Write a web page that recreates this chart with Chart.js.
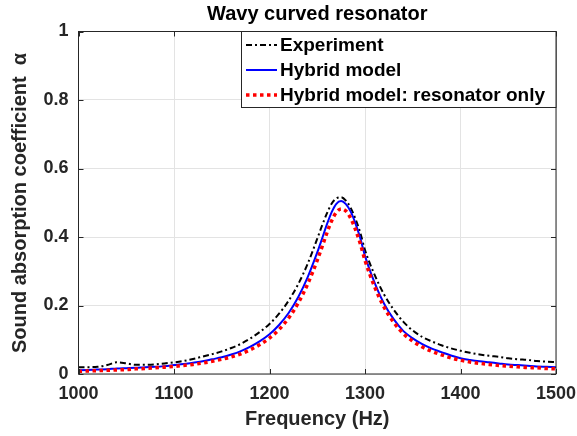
<!DOCTYPE html>
<html>
<head>
<meta charset="utf-8">
<script src="https://cdn.jsdelivr.net/npm/chart.js@4.4.1/dist/chart.umd.min.js"></script>
<style>
  html, body { margin: 0; padding: 0; background: #fff; }
  #wrap { width: 577px; height: 436px; }
</style>
</head>
<body>
<div id="wrap"><canvas id="dataChart" width="577" height="436"></canvas></div>
<script>
// frequency (Hz)
const freq = [1000, 1010, 1020, 1030, 1040, 1050, 1060, 1070, 1080, 1090,
	1100, 1110, 1120, 1130, 1140, 1150, 1160, 1170, 1180, 1190,
	1200, 1210, 1220, 1230, 1240, 1250,
	1255, 1260, 1265, 1270, 1275, 1280, 1285, 1290, 1295,
	1300, 1310, 1320, 1330, 1340, 1350, 1360, 1370, 1380, 1390, 1400,
	1410, 1420, 1430, 1440, 1450, 1460, 1470, 1480, 1490, 1500];

const experiment = [0.020, 0.020, 0.021, 0.026, 0.034, 0.031, 0.027, 0.027, 0.028, 0.031,
	0.034, 0.038, 0.044, 0.051, 0.058, 0.066, 0.076, 0.088, 0.104, 0.123,
	0.146, 0.176, 0.214, 0.262, 0.322, 0.395,
	0.433, 0.468, 0.497, 0.513, 0.516, 0.506, 0.485, 0.453, 0.413,
	0.362, 0.290, 0.232, 0.188, 0.153, 0.127, 0.108, 0.095, 0.084, 0.075, 0.068,
	0.062, 0.057, 0.053, 0.050, 0.046, 0.043, 0.041, 0.038, 0.036, 0.035];

const hybrid = [0.011, 0.012, 0.013, 0.014, 0.016, 0.017, 0.018, 0.020, 0.021, 0.023,
	0.026, 0.029, 0.033, 0.037, 0.043, 0.049, 0.057, 0.067, 0.080, 0.096,
	0.116, 0.143, 0.178, 0.224, 0.283, 0.355,
	0.395, 0.436, 0.472, 0.497, 0.505, 0.496, 0.474, 0.440, 0.397,
	0.345, 0.267, 0.205, 0.160, 0.126, 0.104, 0.087, 0.074, 0.064, 0.054, 0.046,
	0.041, 0.037, 0.034, 0.031, 0.028, 0.026, 0.024, 0.022, 0.021, 0.020];

const resonatorOnly = [0.008, 0.009, 0.010, 0.011, 0.012, 0.013, 0.015, 0.016, 0.018, 0.020,
	0.022, 0.025, 0.028, 0.032, 0.037, 0.043, 0.050, 0.059, 0.071, 0.086,
	0.105, 0.130, 0.163, 0.207, 0.263, 0.332,
	0.371, 0.411, 0.447, 0.472, 0.482, 0.476, 0.455, 0.422, 0.381,
	0.332, 0.255, 0.195, 0.151, 0.118, 0.096, 0.079, 0.066, 0.056, 0.047, 0.040,
	0.035, 0.031, 0.028, 0.025, 0.023, 0.021, 0.019, 0.018, 0.016, 0.015];

const xTicks = [1000, 1100, 1200, 1300, 1400, 1500];
const yTicks = [0, 0.2, 0.4, 0.6, 0.8, 1];
const yTickLabels = ['0', '0.2', '0.4', '0.6', '0.8', '1'];
const seriesNames = ['Experiment', 'Hybrid model', 'Hybrid model: resonator only'];

const axisColor = '#262626';
const fontFam = '"Liberation Sans", Arial, Helvetica, sans-serif';

const toPoints = (ys) => freq.map((f, i) => ({ x: f, y: ys[i] }));

// box, inward ticks, title, axis labels and legend (MATLAB look)
const matlabDecor = {
	id: 'matlabDecor',
	afterDraw(chart) {
		const c = chart.ctx;
		const a = chart.chartArea;
		const xs = chart.scales.x, ys = chart.scales.y;
		c.save();
		c.strokeStyle = axisColor;
		c.lineWidth = 1;
		c.strokeRect(a.left, a.top, a.right - a.left, a.bottom - a.top);
		c.beginPath();
		xTicks.forEach(v => {
			const px = Math.round(xs.getPixelForValue(v)) + 0.5;
			c.moveTo(px, a.bottom); c.lineTo(px, a.bottom - 5);
			c.moveTo(px, a.top); c.lineTo(px, a.top + 5);
		});
		yTicks.forEach(v => {
			const py = Math.round(ys.getPixelForValue(v)) + 0.5;
			c.moveTo(a.left, py); c.lineTo(a.left + 5, py);
			c.moveTo(a.right, py); c.lineTo(a.right - 5, py);
		});
		c.stroke();

		// title
		c.fillStyle = '#000';
		c.textAlign = 'center';
		c.textBaseline = 'middle';
		c.font = 'bold 20px ' + fontFam;
		c.fillText('Wavy curved resonator', (a.left + a.right) / 2, 14);

		// x label
		c.fillStyle = axisColor;
		c.fillText('Frequency (Hz)', (a.left + a.right) / 2, 419);

		// y label
		c.save();
		c.translate(20, 203);
		c.rotate(-Math.PI / 2);
		c.fillText('Sound absorption coefficient  \u03b1', 0, 0);
		c.restore();

		// legend
		const lx = 241.5, ly = 31.5, lw = a.right - 241.5, lh = 76;
		c.fillStyle = '#fff';
		c.fillRect(lx, ly, lw, lh);
		c.strokeStyle = axisColor;
		c.strokeRect(lx, ly, lw, lh);
		c.font = 'bold 19px ' + fontFam;
		c.textAlign = 'left';
		c.fillStyle = '#000';
		chart.data.datasets.forEach((ds, i) => {
			const yy = 45 + i * 25;
			c.save();
			c.strokeStyle = ds.borderColor;
			c.lineWidth = ds.borderWidth;
			c.setLineDash(ds.borderDash || []);
			c.beginPath();
			c.moveTo(246, yy); c.lineTo(277, yy);
			c.stroke();
			c.restore();
			c.fillText(seriesNames[i], 280, yy + 1);
		});
		c.restore();
	}
};

const ctx = document.getElementById('dataChart').getContext('2d');
const chart = new Chart(ctx, {
	type: 'line',
	data: {
		datasets: [{
			label: seriesNames[0],
			data: toPoints(experiment),
			borderColor: '#000000',
			borderWidth: 2,
			borderDash: [6, 3, 2, 3],
			order: 2
		}, {
			label: seriesNames[1],
			data: toPoints(hybrid),
			borderColor: '#0000ff',
			borderWidth: 2,
			order: 1
		}, {
			label: seriesNames[2],
			data: toPoints(resonatorOnly),
			borderColor: '#ff0000',
			borderWidth: 3.5,
			borderDash: [3.5, 3.5],
			order: 0
		}]
	},
	options: {
		responsive: false,
		animation: false,
		devicePixelRatio: 1,
		elements: {
			point: { radius: 0 },
			line: { cubicInterpolationMode: 'monotone', fill: false }
		},
		layout: { padding: { top: 31.5, right: 21, left: 0, bottom: 0 } },
		plugins: {
			legend: { display: false },
			title: { display: false },
			tooltip: { enabled: false }
		},
		scales: {
			x: {
				type: 'linear',
				min: 1000,
				max: 1500,
				afterFit: (s) => { s.height = 62; s.paddingLeft = 0; s.paddingRight = 0; },
				afterBuildTicks: (s) => { s.ticks = xTicks.map(v => ({ value: v })); },
				grid: { color: '#e3e3e3', drawTicks: false },
				border: { display: false },
				ticks: {
					color: axisColor,
					padding: 9,
					maxRotation: 0,
					callback: (v) => String(v),
					font: { family: fontFam, size: 18, weight: 'bold' }
				}
			},
			y: {
				min: 0,
				max: 1,
				afterFit: (s) => { s.width = 78.5; s.paddingTop = 0; s.paddingBottom = 0; },
				afterBuildTicks: (s) => { s.ticks = yTicks.map(v => ({ value: v })); },
				grid: { color: '#e3e3e3', drawTicks: false },
				border: { display: false },
				ticks: {
					color: axisColor,
					padding: 10,
					callback: (v) => yTickLabels[yTicks.indexOf(v)] ?? String(v),
					font: { family: fontFam, size: 18, weight: 'bold' }
				}
			}
		}
	},
	plugins: [matlabDecor]
});
</script>
</body>
</html>
